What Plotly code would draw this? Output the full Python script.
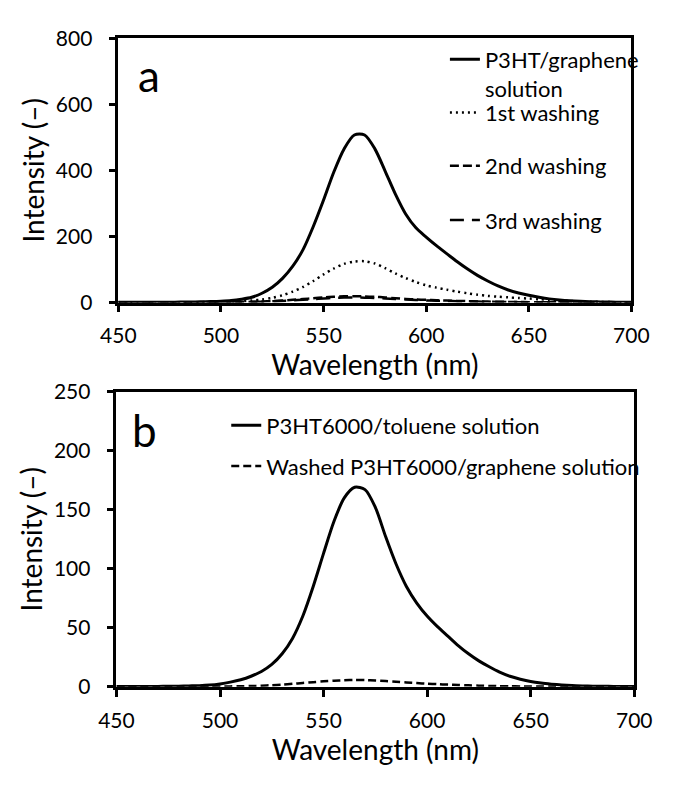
import plotly.graph_objects as go

# ---------------- data ----------------
wavelength = [450, 455, 460, 465, 470, 475, 480, 485, 490, 495,
              500, 505, 510, 515, 520, 525, 530, 535, 540, 545,
              550, 555, 560, 565, 570, 575, 580, 585, 590, 595,
              600, 605, 610, 615, 620, 625, 630, 635, 640, 645,
              650, 655, 660, 665, 670, 675, 680, 685, 690, 695, 700]

# panel a
p3ht_graphene = [0.5, 0.5, 0.6, 0.7, 0.8, 1.0, 1.2, 1.5, 2.0, 2.8,
                 4, 6, 10, 16, 28, 46, 73, 110, 160, 230,
                 310, 395, 465, 507, 507, 465, 398, 328, 268, 226,
                 198, 172, 148, 124, 102, 82, 65, 50, 38, 29,
                 22, 16, 11, 7.5, 5, 3.5, 2.5, 1.8, 1.3, 1.0, 0.8]
wash1 = [0.3, 0.3, 0.4, 0.4, 0.5, 0.6, 0.7, 0.9, 1.1, 1.4,
         1.8, 2.6, 4, 6, 9, 14, 22, 33, 47, 65,
         85, 103, 117, 124, 125, 118, 104, 88, 74, 62,
         52, 45, 39, 33, 28, 23.5, 20, 17.5, 15.5, 13.5,
         12, 10, 8, 6, 4.5, 3.2, 2.3, 1.7, 1.2, 0.9, 0.7]
wash2 = [0.2, 0.2, 0.2, 0.3, 0.3, 0.3, 0.4, 0.4, 0.5, 0.6,
         0.8, 1.0, 1.4, 2.0, 3.0, 4.3, 6.0, 8.0, 10.5, 13,
         15.5, 17.5, 18.7, 19, 18.6, 17.3, 15.3, 13, 11, 9.3,
         8, 6.8, 5.8, 4.9, 4.1, 3.4, 2.8, 2.2, 1.8, 1.4,
         1.1, 0.9, 0.7, 0.6, 0.5, 0.4, 0.4, 0.3, 0.3, 0.3, 0.3]
wash3 = [0.2, 0.2, 0.2, 0.2, 0.3, 0.3, 0.3, 0.4, 0.4, 0.5,
         0.7, 0.9, 1.2, 1.7, 2.5, 3.5, 4.8, 6.4, 8.3, 10.3,
         12.2, 13.8, 14.8, 15, 14.7, 13.7, 12.2, 10.4, 8.8, 7.5,
         6.4, 5.5, 4.7, 4.0, 3.3, 2.7, 2.2, 1.8, 1.4, 1.1,
         0.9, 0.7, 0.6, 0.5, 0.4, 0.4, 0.3, 0.3, 0.3, 0.2, 0.2]

# panel b
p3ht6000_toluene = [0.3, 0.3, 0.3, 0.4, 0.4, 0.5, 0.6, 0.8, 1.0, 1.5,
                    2.5, 4, 6, 9, 13, 19, 28, 41, 60, 85,
                    113, 140, 160, 169, 167, 152, 127, 104, 85, 71,
                    60, 51, 43, 35, 28, 22, 17, 12.5, 9, 6.5,
                    4.5, 3.2, 2.3, 1.6, 1.1, 0.8, 0.6, 0.5, 0.4, 0.3, 0.3]
washed_p3ht6000 = [0.1, 0.1, 0.1, 0.1, 0.1, 0.1, 0.1, 0.2, 0.2, 0.2,
                   0.3, 0.4, 0.5, 0.7, 1.0, 1.4, 1.9, 2.6, 3.3, 4.0,
                   4.7, 5.2, 5.6, 5.8, 5.7, 5.4, 4.9, 4.3, 3.7, 3.2,
                   2.7, 2.3, 1.9, 1.6, 1.3, 1.0, 0.8, 0.6, 0.5, 0.4,
                   0.3, 0.3, 0.2, 0.2, 0.2, 0.1, 0.1, 0.1, 0.1, 0.1, 0.1]

names_a = ["P3HT/graphene<br>solution", "1st washing", "2nd washing", "3rd washing"]
names_b = ["P3HT6000/toluene solution", "Washed P3HT6000/graphene solution"]

x_ticks = [450, 500, 550, 600, 650, 700]
y_ticks_a = [0, 200, 400, 600, 800]
y_ticks_b = [0, 50, 100, 150, 200, 250]

# ---------------- figure ----------------
W, H = 674, 785
FONT = "Lato, 'Open Sans', sans-serif"
fig = go.Figure()

series_a = [p3ht_graphene, wash1, wash2, wash3]
dashes_a = ["solid", "2px,4px", "9px,4px", "14px,8px"]
widths_a = [3, 2.5, 2.5, 2.5]
legends_a = ["legend", "legend2", "legend3", "legend4"]
for ys, nm, ds, lw, lg in zip(series_a, names_a, dashes_a, widths_a, legends_a):
    fig.add_trace(go.Scatter(x=wavelength, y=ys, name=nm, mode="lines",
                             line=dict(color="black", width=lw, dash=ds,
                                       shape="spline", smoothing=0.8),
                             xaxis="x", yaxis="y", legend=lg, showlegend=True))

series_b = [p3ht6000_toluene, washed_p3ht6000]
dashes_b = ["solid", "8px,4px"]
widths_b = [3, 2.5]
legends_b = ["legend5", "legend6"]
for ys, nm, ds, lw, lg in zip(series_b, names_b, dashes_b, widths_b, legends_b):
    fig.add_trace(go.Scatter(x=wavelength, y=ys, name=nm, mode="lines",
                             line=dict(color="black", width=lw, dash=ds,
                                       shape="spline", smoothing=0.8),
                             xaxis="x2", yaxis="y2", legend=lg, showlegend=True))


def xax(domain, anchor, label_gap, title_gap):
    return dict(domain=domain, anchor=anchor, range=[450, 700],
                tickvals=x_ticks, showline=True, linecolor="black", linewidth=2.5,
                mirror=True, ticks="outside", ticklen=7, tickwidth=2.5,
                tickcolor="black", showgrid=False, zeroline=False,
                tickfont=dict(size=21, color="black", family=FONT),
                ticklabelstandoff=label_gap,
                title=dict(text="Wavelength (nm)", standoff=title_gap,
                           font=dict(size=28, color="black", family=FONT)))


def yax(domain, anchor, rng, ticks):
    return dict(domain=domain, anchor=anchor, range=rng, tickvals=ticks,
                showline=True, linecolor="black", linewidth=2.5, mirror=True,
                ticks="outside", ticklen=7, tickwidth=2.5, tickcolor="black",
                showgrid=False, zeroline=False,
                tickfont=dict(size=21, color="black", family=FONT),
                ticklabelstandoff=12,
                title=dict(text="Intensity (–)", standoff=4,
                           font=dict(size=28, color="black", family=FONT)))


xa_dom = [106 / W, 648 / W]
xb_dom = [104 / W, 651 / W]
ya_dom = [1 - 298 / H, 1 - 25 / H]
yb_dom = [1 - 695 / H, 1 - 390 / H]


def leg(xpx, ypx):
    return dict(x=xpx / W, y=1 - ypx / H, xanchor="left", yanchor="middle",
                bgcolor="rgba(0,0,0,0)", borderwidth=0, valign="top",
                font=dict(size=22, color="black", family=FONT))


fig.update_layout(
    width=W, height=H, autosize=False, showlegend=True,
    margin=dict(l=0, r=0, t=0, b=0),
    paper_bgcolor="white", plot_bgcolor="white",
    font=dict(family=FONT, color="black"),
    xaxis=xax(xa_dom, "y", 6, 2),
    yaxis=yax(ya_dom, "x", [0, 800], y_ticks_a),
    xaxis2=xax(xb_dom, "y2", 6, 8),
    yaxis2=yax(yb_dom, "x2", [0, 250], y_ticks_b),
    legend=leg(451, 62),
    legend2=leg(451, 102),
    legend3=leg(451, 157),
    legend4=leg(451, 213),
    legend5=leg(220, 425),
    legend6=leg(220, 467),
    annotations=[
        dict(text="a", x=138 / W, y=1 - 63 / H, xref="paper", yref="paper",
             xanchor="center", yanchor="middle", showarrow=False,
             font=dict(size=44, color="black", family=FONT)),
        dict(text="b", x=134 / W, y=1 - 430 / H, xref="paper", yref="paper",
             xanchor="center", yanchor="middle", showarrow=False,
             font=dict(size=44, color="black", family=FONT)),
    ],
)

fig.write_html("out.html")
